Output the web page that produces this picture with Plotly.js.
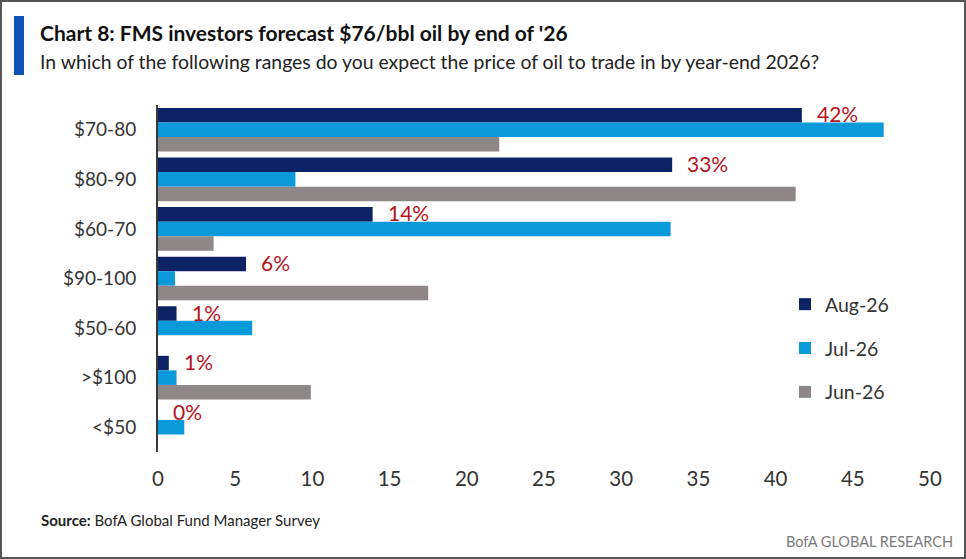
<!DOCTYPE html>
<html>
<head>
<meta charset="utf-8">
<script src="https://cdn.plot.ly/plotly-3.0.1.min.js"></script>
<style>
html,body{margin:0;padding:0;background:#fff;}
#chart{width:966px;height:559px;}
</style>
</head>
<body>
<div id="chart"></div>
<script>
var categories = ["$70-80", "$80-90", "$60-70", "$90-100", "$50-60", ">$100", "<$50"];
var aug26 = [41.7, 33.3, 13.9, 5.7, 1.2, 0.7, 0];
var jul26 = [47.0, 8.9, 33.2, 1.1, 6.1, 1.2, 1.7];
var jun26 = [22.1, 41.3, 3.6, 17.5, 0, 9.9, 0];
var augLabels = ["42%", "33%", "14%", "6%", "1%", "1%", "0%"];
var seriesNames = ["Aug-26", "Jul-26", "Jun-26"];

var W = 966, H = 559;
var M = {l: 158, r: 36, t: 105, b: 107};
var PW = W - M.l - M.r, PH = H - M.t - M.b;
function px(x){ return (x - M.l) / PW; }
function py(y){ return 1 - (y - M.t) / PH; }

var FONT = "Lato, Open Sans, sans-serif";

var colors = ["#0b2265", "#0a9ad9", "#8e8787"];
var vals = [aug26, jul26, jun26];
var traces = vals.map(function(v, i){
  return {
    type: "bar", orientation: "h",
    x: v, y: categories, name: seriesNames[i],
    marker: {color: colors[i]},
    legendgroup: "g" + i,
    hoverinfo: "x+name"
  };
});

var annotations = categories.map(function(c, i){
  return {
    x: aug26[i], y: c, xref: "x", yref: "y",
    text: augLabels[i], showarrow: false,
    xanchor: "left", yanchor: "middle",
    xshift: 13, yshift: 16,
    font: {family: FONT, size: 21, color: "#b8121a"}
  };
});

annotations.push({
  xref: "paper", yref: "paper", x: px(38), y: py(33),
  xanchor: "left", yanchor: "middle", showarrow: false,
  text: "<b>Chart 8: FMS investors forecast $76/bbl oil by end of '26</b>",
  font: {family: FONT, size: 21, color: "#111"}
});
annotations.push({
  xref: "paper", yref: "paper", x: px(38), y: py(61),
  xanchor: "left", yanchor: "middle", showarrow: false,
  text: "In which of the following ranges do you expect the price of oil to trade in by year-end 2026?",
  font: {family: FONT, size: 19.4, color: "#222"}
});
annotations.push({
  xref: "paper", yref: "paper", x: px(39), y: py(520),
  xanchor: "left", yanchor: "middle", showarrow: false,
  text: "<b>Source:</b> BofA Global Fund Manager Survey",
  font: {family: FONT, size: 15, color: "#222"}
});
annotations.push({
  xref: "paper", yref: "paper", x: px(955), y: py(541),
  xanchor: "right", yanchor: "middle", showarrow: false,
  text: "BofA GLOBAL RESEARCH",
  font: {family: FONT, size: 14.5, color: "#7a7a7a"}
});

var shapes = [
  {type: "rect", xref: "paper", yref: "paper",
   x0: px(14), x1: px(24), y0: py(16), y1: py(75),
   fillcolor: "#0f52b5", line: {width: 0}},
  {type: "rect", xref: "paper", yref: "paper",
   x0: px(1), x1: px(965), y0: py(1), y1: py(558),
   fillcolor: "rgba(0,0,0,0)", line: {color: "#555", width: 2}}
];

var layout = {
  width: W, height: H,
  margin: M,
  paper_bgcolor: "#fff", plot_bgcolor: "#fff",
  barmode: "group", bargap: 0.12, bargroupgap: 0,
  font: {family: FONT, color: "#333"},
  xaxis: {
    range: [0, 50], dtick: 5, tick0: 0,
    showgrid: false, zeroline: false, showline: false, ticks: "",
    tickfont: {family: FONT, size: 20.5, color: "#333"},
    ticklabelstandoff: 12, fixedrange: true
  },
  yaxis: {
    type: "category", range: [6.5, -0.5],
    showgrid: false, zeroline: false,
    showline: true, linecolor: "#3a3a3a", linewidth: 2, ticks: "",
    tickfont: {family: FONT, size: 19, color: "#333"},
    ticklabelstandoff: 16, fixedrange: true
  },
  showlegend: true,
  legend: {
    x: px(785), y: py(285), xanchor: "left", yanchor: "top",
    font: {family: FONT, size: 19.5, color: "#333"},
    bgcolor: "rgba(0,0,0,0)", tracegroupgap: 15.5,
    traceorder: "grouped"
  },
  annotations: annotations,
  shapes: shapes
};

Plotly.newPlot("chart", traces, layout, {displayModeBar: false, staticPlot: true});
</script>
</body>
</html>
